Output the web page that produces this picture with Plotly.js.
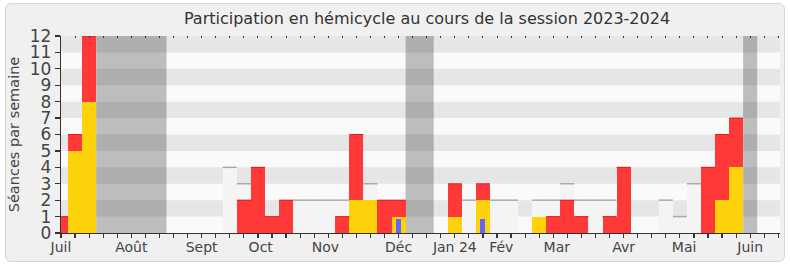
<!DOCTYPE html>
<html><head><meta charset="utf-8">
<script src="https://cdn.plot.ly/plotly-3.0.1.min.js"></script>
<style>
html,body{margin:0;padding:0;background:#fff;}
#frame{position:absolute;left:5px;top:3px;width:778px;height:257px;background:#f0f0f0;border:1px solid #d6d6d6;border-radius:6px;}
#chart{position:absolute;left:0;top:0;width:790px;height:267px;}
</style></head><body>
<div id="frame"></div><div id="chart"></div>
<script>
// Week index (0 = first week of July 2023)
const semaines = [0,1,2,3,4,5,6,7,8,9,10,11,12,13,14,15,16,17,18,19,20,21,22,23,24,25,26,27,28,29,30,31,32,33,34,35,36,37,38,39,40,41,42,43,44,45,46,47,48,49,50,51];
// Présences en séance (rouge)
const presences = [1,6,12,0,0,0,0,0,0,0,0,0,0,2,4,1,2,0,0,0,1,6,2,2,2,0,0,0,3,0,3,0,0,0,1,1,2,1,0,1,4,0,0,0,0,0,4,6,7,0,0,0];
// Interventions (jaune)
const interventions = [0,5,8,0,0,0,0,0,0,0,0,0,0,0,0,0,0,0,0,0,0,2,2,0,1,0,0,0,1,0,2,0,0,0,1,0,0,0,0,0,0,0,0,0,0,0,0,2,4,0,0,0];
// Questions orales (bleu)
const questions = [0,0,0,0,0,0,0,0,0,0,0,0,0,0,0,0,0,0,0,0,0,0,0,0,0.85,0,0,0,0,0,0.85,0,0,0,0,0,0,0,0,0,0,0,0,0,0,0,0,0,0,0,0,0];
// Médiane des présences (gris clair)
const mediane = [0,0,0,0,0,0,0,0,0,0,0,0,4,3,0,0,0,2,2,2,2,0,3,0,0,0,0,0,0,2,2,2,2,0,2,2,3,2,2,2,0,0,0,2,1,3,0,0,0,0,0,0];
// Vacances parlementaires (semaines début, fin)
const vacances = [[3,7],[25,26],[49,49]];
// Month labels and their positions (in weeks)
const mois = ['Juil','Août','Sept','Oct','Nov','Déc','Jan 24','Fév','Mar','Avr','Mai','Juin'];
const moisPos = [0,5,10,14.2,18.8,24.0,28.0,31.3,35.25,40.0,44.3,49.0];

const XR = [0, 51.12];

function topLines(vals, cond) {
  const xs = [], ys = [];
  vals.forEach((v, i) => {
    if (v > 0 && cond(i, v)) { xs.push(semaines[i] - 0.5, semaines[i] + 0.5, null); ys.push(v, v, null); }
  });
  return {xs, ys};
}
const gl = topLines(mediane, (i, v) => v > presences[i] && v > interventions[i]);
const rl = topLines(presences, (i, v) => v > interventions[i]);

const traces = [
  {type:'bar', x:semaines, y:mediane, marker:{color:'#f4f4f4', line:{width:0}}, hoverinfo:'skip'},
  {type:'bar', x:semaines, y:presences, marker:{color:'#ff3838', line:{width:0}}, hoverinfo:'skip'},
  {type:'bar', x:semaines, y:interventions, marker:{color:'#fdd20b', line:{width:0}}, hoverinfo:'skip'},
  {type:'bar', x:semaines, y:questions, width:0.36, marker:{color:'#6464ff', line:{width:0}}, hoverinfo:'skip'},
  {type:'scatter', mode:'lines', x:gl.xs, y:gl.ys, line:{color:'#aaaaaa', width:1.5}, hoverinfo:'skip', connectgaps:false},
  {type:'scatter', mode:'lines', x:rl.xs, y:rl.ys, line:{color:'#e51a1a', width:1}, hoverinfo:'skip', connectgaps:false},
  {type:'scatter', mode:'lines', x:[], y:[], xaxis:'x2', yaxis:'y', hoverinfo:'skip'},
  {type:'scatter', mode:'lines', x:[], y:[], xaxis:'x3', yaxis:'y', hoverinfo:'skip'}
];

const shapes = [];
vacances.forEach(([a, b]) => {
  shapes.push({type:'rect', layer:'below', xref:'x', yref:'paper', x0:a - 0.5, x1:b + 0.5, y0:0, y1:1, fillcolor:'#bdbdbd', line:{width:0}});
});
[1,3,5,7,9,11].forEach(k => {
  shapes.push({type:'rect', layer:'below', xref:'paper', yref:'y', x0:0, x1:1, y0:k, y1:k + 1, fillcolor:'rgba(0,0,0,0.08)', line:{width:0}});
});

const layout = {
  width:790, height:267,
  margin:{l:61, r:10, t:36, b:34, pad:0},
  paper_bgcolor:'rgba(0,0,0,0)',
  plot_bgcolor:'#fafafa',
  barmode:'overlay', bargap:0,
  showlegend:false,
  font:{family:'DejaVu Sans', color:'#333'},
  title:{text:'Participation en hémicycle au cours de la session 2023-2024', font:{size:16, color:'#333'},
         x:0.5405, xref:'container', xanchor:'center', y:0.932, yref:'container', yanchor:'middle'},
  xaxis:{type:'linear', range:XR, tickmode:'array', tickvals:moisPos, ticktext:mois, ticks:'outside', ticklen:1,
         tickcolor:'rgba(0,0,0,0)', showline:true, linecolor:'#333', linewidth:1.2, showgrid:false, zeroline:false,
         tickfont:{size:14, color:'#444'}, fixedrange:true},
  xaxis2:{type:'linear', overlaying:'x', anchor:'y', side:'bottom', range:XR, tickmode:'array', tickvals:semaines,
          ticks:'outside', ticklen:4, tickwidth:1.2, tickcolor:'#333', showticklabels:false, showline:false, showgrid:false, zeroline:false},
  xaxis3:{type:'linear', overlaying:'x', anchor:'y', side:'top', range:XR, tickmode:'array', tickvals:semaines,
          ticks:'inside', ticklen:2, tickcolor:'#333', showticklabels:false, showline:false, showgrid:false, zeroline:false},
  yaxis:{range:[0,12], tickmode:'linear', tick0:0, dtick:1, ticks:'outside', ticklen:5, tickcolor:'#333', tickwidth:1.2,
         showline:true, linecolor:'#333', linewidth:1.2, showgrid:false, zeroline:false, tickfont:{size:17, color:'#444'}, fixedrange:true,
         title:{text:'Séances par semaine', font:{size:14.5, color:'#444'}, standoff:6}},
  shapes:shapes
};

Plotly.newPlot('chart', traces, layout, {staticPlot:true, displayModeBar:false});
</script>
</body></html>
